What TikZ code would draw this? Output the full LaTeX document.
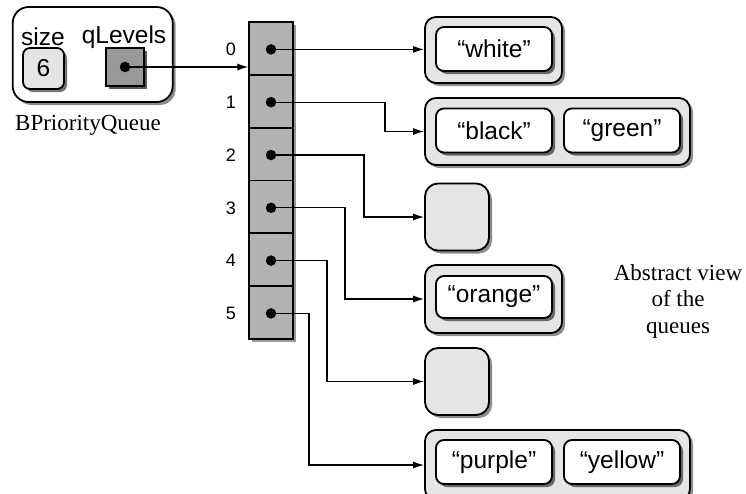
\documentclass[tikz,border=0pt]{standalone}
\usepackage{fontspec}
\setmainfont{Liberation Serif}
\setsansfont{Liberation Sans}
\usetikzlibrary{arrows.meta,shadows,calc}
\begin{document}
\begin{tikzpicture}[x=1pt,y=-1pt,
  shad/.style={drop shadow={shadow xshift=3pt,shadow yshift=-3pt,fill=#1,opacity=1}},
  lab/.style={font=\sffamily\fontsize{24.5}{28}\selectfont, inner sep=0pt},
  idx/.style={font=\sffamily\fontsize{18}{20}\selectfont, inner sep=0pt},
  serif/.style={font=\rmfamily\fontsize{23}{26}\selectfont, inner sep=0pt, align=center},
  bigbox/.style={draw, line width=1.8pt, fill=white, rounded corners=16pt, shad=black!45},
  sizebox/.style={draw, line width=1.8pt, fill=black!10, rounded corners=7pt, shad=black!55, lab},
  qbox/.style={draw, line width=1.8pt, fill=black!40, shad=black!65},
  cell/.style={draw, line width=1.8pt, fill=black!30, minimum width=43.4, minimum height=52.8, shad=black!40},
  dot/.style={circle, fill=black, inner sep=0pt, minimum size=10.5},
  outerbox/.style={draw, line width=1.8pt, fill=black!10, rounded corners=11pt, shad=black!45},
  emptybox/.style={outerbox, rounded corners=13pt, minimum width=64, minimum height=67},
  innerbox/.style={draw, line width=1.8pt, fill=white, rounded corners=8pt, shad=black!60, minimum width=116, minimum height=44, lab},
  arr/.style={line width=1.3pt, -{Latex[length=11pt,width=7pt]}}
]
\useasboundingbox (0,0) rectangle (746,493);
\clip (0,0) rectangle (746,493);

% BPriorityQueue object
\node[bigbox, minimum width=160, minimum height=95] (bpq) at (92.7,54.5) {};
\node[lab] (lsize) at (43,37) {size};
\node[lab] (lq) at (124,37) {qLevels};
\node[sizebox, minimum width=41, minimum height=41] (six) at (43.5,68.5) {6};
\node[qbox, minimum width=38, minimum height=38] (qsq) at (125,67) {};
\node[dot] (qd) at (qsq.center) {};
\node[serif] (bname) at (88,125) {BPriorityQueue};

% array of levels
\foreach \i in {0,...,5} {
  \node[cell] (c\i) at (271,{48.4+52.8*\i}) {};
  \node[dot] (d\i) at ($(c\i.center)+(0,1)$) {};
  \node[idx] (n\i) at ($(c\i.center)+(-40,1)$) {\i};
}
\draw[arr] (qd.center) -- (qd.center -| c0.west);

% queues
\node[outerbox, minimum width=137, minimum height=66] (q0) at (493.5,50) {};
\node[innerbox] (w0) at (494,49) {“white”};
\node[outerbox, minimum width=265, minimum height=67] (q1) at (557.5,131.5) {};
\node[innerbox] (w1a) at (494,130.5) {“black”};
\node[innerbox] (w1b) at (622,130.5) {“green”};
\node[emptybox] (q2) at (457,217) {};
\node[outerbox, minimum width=137, minimum height=68] (q3) at (493.5,299) {};
\node[innerbox, minimum height=42] (w3) at (494,297) {“orange”};
\node[emptybox] (q4) at (457,381.5) {};
\node[outerbox, minimum width=265, minimum height=70] (q5) at (557.5,465) {};
\node[innerbox] (w5a) at (494,462) {“purple”};
\node[innerbox] (w5b) at (622,462) {“yellow”};

\node[serif, font=\rmfamily\fontsize{23}{26.5}\selectfont] (abs) at (678,301) {Abstract view\\of the\\queues};

% connectors
\coordinate (k1) at (385,0);
\coordinate (k2) at (364,0);
\coordinate (k3) at (345,0);
\coordinate (k4) at (327,0);
\coordinate (k5) at (309,0);
\draw[arr] (d0.center) -- (d0.center -| q0.west);
\foreach \i in {1,...,5} {
  \draw[arr] (d\i.center) -| (k\i |- q\i.west) -- (q\i.west);
}
\end{tikzpicture}
\end{document}
